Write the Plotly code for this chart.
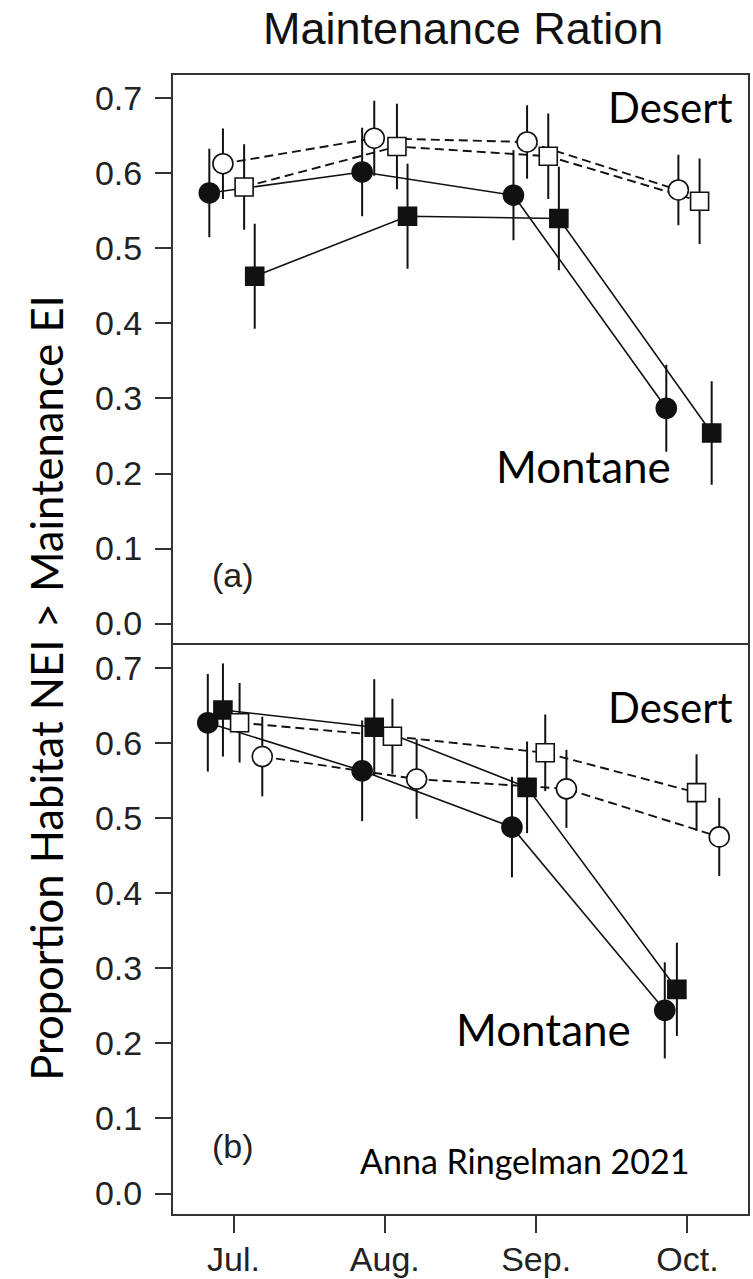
import plotly.graph_objects as go

# ---- data -------------------------------------------------------------
months = ["Jul.", "Aug.", "Sep.", "Oct."]
month_pos = [1, 2, 3, 4]
y_ticks = [0.0, 0.1, 0.2, 0.3, 0.4, 0.5, 0.6, 0.7]
y_tick_text = ["0.0", "0.1", "0.2", "0.3", "0.4", "0.5", "0.6", "0.7"]

# panel (a): sampling positions (month units), proportions and errors
a_mont_circle_x = [0.84, 1.85, 2.85, 3.86]
a_mont_circle_y = [0.574, 0.602, 0.571, 0.287]
a_mont_circle_err = [0.059, 0.059, 0.060, 0.058]

a_mont_square_x = [1.14, 2.15, 3.15, 4.16]
a_mont_square_y = [0.463, 0.543, 0.540, 0.254]
a_mont_square_err = [0.070, 0.070, 0.069, 0.069]

a_des_circle_x = [0.93, 1.93, 2.94, 3.94]
a_des_circle_y = [0.613, 0.647, 0.642, 0.578]
a_des_circle_err = [0.047, 0.050, 0.049, 0.047]

a_des_square_x = [1.07, 2.08, 3.08, 4.08]
a_des_square_y = [0.582, 0.636, 0.623, 0.563]
a_des_square_err = [0.057, 0.057, 0.057, 0.057]

# panel (b)
b_mont_circle_x = [0.83, 1.85, 2.84, 3.85]
b_mont_circle_y = [0.627, 0.563, 0.488, 0.244]
b_mont_circle_err = [0.065, 0.067, 0.067, 0.064]

b_mont_square_x = [0.93, 1.93, 2.94, 3.93]
b_mont_square_y = [0.644, 0.621, 0.541, 0.272]
b_mont_square_err = [0.062, 0.064, 0.061, 0.062]

b_des_square_x = [1.04, 2.05, 3.06, 4.06]
b_des_square_y = [0.627, 0.609, 0.587, 0.534]
b_des_square_err = [0.053, 0.050, 0.051, 0.051]

b_des_circle_x = [1.19, 2.21, 3.20, 4.21]
b_des_circle_y = [0.582, 0.552, 0.539, 0.475]
b_des_circle_err = [0.053, 0.053, 0.052, 0.052]

# ---- styling ----------------------------------------------------------
INK = "#111111"
FRAME = "#333333"
SANS = "Liberation Sans, Arial, Helvetica, sans-serif"
TICKFONT = dict(family=SANS, size=34, color="#222222")
LABELFONT = "Lato, Calibri, sans-serif"

series = {
    "a": [
        (a_mont_circle_x, a_mont_circle_y, a_mont_circle_err, "circle", INK, "solid"),
        (a_mont_square_x, a_mont_square_y, a_mont_square_err, "square", INK, "solid"),
        (a_des_circle_x, a_des_circle_y, a_des_circle_err, "circle", "white", "9px,5px"),
        (a_des_square_x, a_des_square_y, a_des_square_err, "square", "white", "9px,5px"),
    ],
    "b": [
        (b_mont_circle_x, b_mont_circle_y, b_mont_circle_err, "circle", INK, "solid"),
        (b_mont_square_x, b_mont_square_y, b_mont_square_err, "square", INK, "solid"),
        (b_des_square_x, b_des_square_y, b_des_square_err, "square", "white", "9px,5px"),
        (b_des_circle_x, b_des_circle_y, b_des_circle_err, "circle", "white", "9px,5px"),
    ],
}
axes_of = {"a": ("x2", "y2"), "b": ("x", "y")}

fig = go.Figure()

# connecting lines and error bars first, so every marker sits on top
for panel, items in series.items():
    xa, ya = axes_of[panel]
    for xs, ys, es, sym, fill, dash in items:
        fig.add_trace(go.Scatter(
            x=xs, y=ys, mode="lines", xaxis=xa, yaxis=ya,
            line=dict(color=INK, width=1.6 if dash == "solid" else 1.9, dash=dash),
            error_y=dict(type="data", array=es, visible=True, color=INK,
                         thickness=2, width=0),
            showlegend=False, hoverinfo="skip",
        ))

for panel, items in series.items():
    xa, ya = axes_of[panel]
    for xs, ys, es, sym, fill, dash in items:
        fig.add_trace(go.Scatter(
            x=xs, y=ys, mode="markers", xaxis=xa, yaxis=ya,
            marker=dict(symbol=sym, size=20 if sym == "circle" else 18,
                        color=fill, line=dict(color=INK, width=1.6)),
            showlegend=False,
        ))

split = 0.4996
line = dict(showline=True, linecolor=FRAME, linewidth=2,
            showgrid=False, zeroline=False, automargin=False)

fig.update_layout(
    width=753, height=1279,
    margin=dict(l=173, r=5, t=75, b=65, autoexpand=False),
    paper_bgcolor="white", plot_bgcolor="white",
    # bottom panel x axis: labelled, boxed on both sides
    xaxis=dict(domain=[0, 1], anchor="y", range=[0.6, 4.4], mirror=True,
               tickvals=month_pos, ticktext=months, ticks="outside",
               ticklen=17, tickwidth=2, tickcolor=FRAME, tickfont=TICKFONT,
               ticklabelstandoff=-3, **line),
    # top panel x axis: only the upper frame edge
    xaxis2=dict(domain=[0, 1], anchor="y2", matches="x", range=[0.6, 4.4],
                side="top", mirror=False, showticklabels=False, ticks="", **line),
    yaxis=dict(domain=[0, split], anchor="x", range=[-0.0272, 0.7306], mirror=True,
               tickvals=y_ticks, ticktext=y_tick_text, ticks="outside",
               ticklen=16, tickwidth=2, tickcolor=FRAME, tickfont=TICKFONT,
               ticklabelstandoff=6, **line),
    yaxis2=dict(domain=[split, 1], anchor="x2", range=[-0.0286, 0.7313], mirror=True,
                tickvals=y_ticks, ticktext=y_tick_text, ticks="outside",
                ticklen=16, tickwidth=2, tickcolor=FRAME, tickfont=TICKFONT,
                ticklabelstandoff=6, **line),
)

annotations = [
    # figure title
    dict(text="Maintenance Ration", xref="paper", yref="paper",
         x=0.505, y=1.0404, xanchor="center", yanchor="middle",
         font=dict(family=SANS, size=45, color="#111111")),
    # shared y-axis title
    dict(text="Proportion Habitat NEI > Maintenance EI", xref="paper", yref="paper",
         x=-0.221, y=0.4619, xanchor="center", yanchor="middle", textangle=-90,
         font=dict(family=LABELFONT, size=43.6, color="black")),
    # panel (a)
    dict(text="Desert", xref="x2", yref="y2", x=4.313, y=0.688,
         xanchor="right", yanchor="middle", font=dict(family=LABELFONT, size=42, color="black")),
    dict(text="Montane", xref="x2", yref="y2", x=3.315, y=0.2095,
         xanchor="center", yanchor="middle", font=dict(family=LABELFONT, size=44, color="black")),
    dict(text="(a)", xref="x2", yref="y2", x=0.995, y=0.065,
         xanchor="center", yanchor="middle", font=TICKFONT),
    # panel (b)
    dict(text="Desert", xref="x", yref="y", x=4.313, y=0.6476,
         xanchor="right", yanchor="middle", font=dict(family=LABELFONT, size=42, color="black")),
    dict(text="Montane", xref="x", yref="y", x=3.047, y=0.219,
         xanchor="center", yanchor="middle", font=dict(family=LABELFONT, size=44, color="black")),
    dict(text="(b)", xref="x", yref="y", x=0.995, y=0.064,
         xanchor="center", yanchor="middle", font=TICKFONT),
    dict(text="Anna Ringelman 2021", xref="x", yref="y", x=2.928, y=0.0446,
         xanchor="center", yanchor="middle", font=dict(family=LABELFONT, size=34, color="black")),
]
for a in annotations:
    a["showarrow"] = False
fig.update_layout(annotations=annotations)

fig.write_html("out.html")
